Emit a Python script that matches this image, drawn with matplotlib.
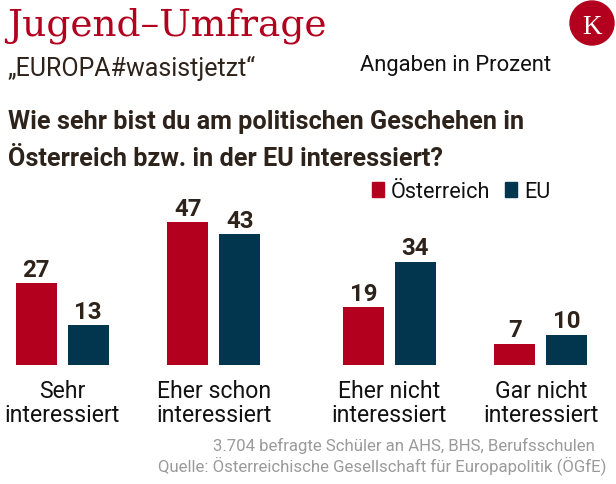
import numpy as np
import matplotlib
matplotlib.use("Agg")
import matplotlib.pyplot as plt
from matplotlib.patches import Rectangle, Ellipse

# ---- data ----
categories = ["Sehr\ninteressiert", "Eher schon\ninteressiert", "Eher nicht\ninteressiert", "Gar nicht\ninteressiert"]
series_names = ["Österreich", "EU"]
oesterreich = [27, 47, 19, 7]
eu = [13, 43, 34, 10]

RED = "#b3001e"
BLUE = "#02354e"
DARK = "#2e231b"
GRAY = "#9a9a9a"

W, H = 616, 485
fig = plt.figure(figsize=(W / 100, H / 100), dpi=100)
fig.patch.set_facecolor("white")


def fx(x):
    return x / W


def fy(y):
    return 1 - y / H


def pt(px):
    return px * 0.72


# ---- axes: baseline at y=366px, 3.04 px per unit ----
unit = 151.5  # px per group step
base_px = 366
top_px = 200
ax = fig.add_axes([0, fy(base_px), 1, (base_px - top_px) / H])
ax.set_xlim(-62.2 / unit, (W - 62.2) / unit)
ax.set_ylim(0, (base_px - top_px) / 3.04)
ax.axis("off")

idx = np.arange(len(categories))
gx = idx + np.where(idx >= 2, 0.16, 0.0)
bw = 41 / unit
off = 26 / unit

b1 = ax.bar(gx - off, oesterreich, width=bw, color=RED, linewidth=0)
b2 = ax.bar(gx + off, eu, width=bw, color=BLUE, linewidth=0)
for bars, vals in ((b1, oesterreich), (b2, eu)):
    for r, v in zip(bars, vals):
        ax.annotate(str(v), (r.get_x() + r.get_width() / 2, v), xytext=(0, 5.2),
                    textcoords="offset points", ha="center", va="baseline",
                    fontsize=pt(24), fontweight="bold", family="Roboto", color=DARK)

for x, lab in zip(gx, categories):
    for k, line in enumerate(lab.split("\n")):
        ax.annotate(line, (x, 0), xytext=(0, -pt(32 + 24 * k)), textcoords="offset points",
                    ha="center", va="baseline", fontsize=pt(23), family="Roboto",
                    color="#111111", annotation_clip=False)

# ---- header ----
fig.text(fx(7), fy(35), "Jugend–Umfrage", fontsize=pt(37.5), family="DejaVu Serif",
         color=RED, va="baseline", ha="left")
fig.text(fx(8), fy(76), "„EUROPA#wasistjetzt“", fontsize=pt(25), family="Roboto",
         color=DARK, va="baseline", ha="left")
fig.text(fx(360), fy(71), "Angaben in Prozent", fontsize=pt(22), family="Roboto",
         color="#111111", va="baseline", ha="left")

fig.text(fx(8), fy(129), "Wie sehr bist du am politischen Geschehen in", fontsize=pt(25.2),
         family="Roboto", fontweight="bold", color=DARK, va="baseline", ha="left")
fig.text(fx(8), fy(166), "Österreich bzw. in der EU interessiert?", fontsize=pt(25.2),
         family="Roboto", fontweight="bold", color=DARK, va="baseline", ha="left")

# logo
fig.patches.append(Ellipse((fx(592), fy(24)), 44 / W, 44 / H, transform=fig.transFigure,
                           color=RED, zorder=5))
fig.text(fx(592), fy(25), "K", fontsize=pt(27), family="Liberation Serif", color="white",
         ha="center", va="center_baseline", zorder=6)

# legend
for i, (name, col) in enumerate(zip(series_names, [RED, BLUE])):
    lx = [372, 505][i]
    fig.patches.append(Rectangle((fx(lx), fy(198)), 11.5 / W, 15 / H, transform=fig.transFigure,
                                 color=col))
    fig.text(fx(lx + 19), fy(198), name, fontsize=pt(21.7), family="Roboto",
             color="#111111", va="baseline", ha="left")

# footnotes
fig.text(fx(595), fy(451), "3.704 befragte Schüler an AHS, BHS, Berufsschulen",
         fontsize=pt(16.8), family="Roboto", color=GRAY, ha="right", va="baseline")
fig.text(fx(606), fy(471), "Quelle: Österreichische Gesellschaft für Europapolitik (ÖGfE)",
         fontsize=pt(16.8), family="Roboto", color=GRAY, ha="right", va="baseline")

fig.savefig("out.png", dpi=100, facecolor="white")
